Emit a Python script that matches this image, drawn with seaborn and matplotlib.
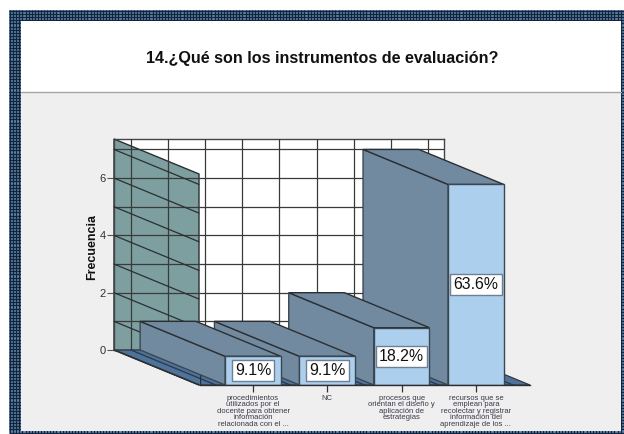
import numpy as np
import pandas as pd
import matplotlib
matplotlib.use("Agg")
import matplotlib.pyplot as plt
from matplotlib.patches import Polygon, Rectangle
import seaborn as sns

# Values
categorias = [
    "procedimientos\nutilizados por el\ndocente para obtener\ninformación\nrelacionada con el ...",
    "NC",
    "procesos que\norientan el diseño y\naplicación de\nestrategias",
    "recursos que se\nemplean para\nrecolectar y registrar\ninformación del\naprendizaje de los ...",
]
frecuencia = [1, 1, 2, 7]
porcentajes = ["9.1%", "9.1%", "18.2%", "63.6%"]
titulo = "14.¿Qué son los instrumentos de evaluación?"

W, H = 624, 434
DEPTH_X_PX, DEPTH_Y_PX = 85, 35
UNIT_X, UNIT_Y = 74.3, 28.65
dx = DEPTH_X_PX / UNIT_X
dy = DEPTH_Y_PX / UNIT_Y
y_top = 211 / UNIT_Y

FRONT = "#abcfed"
SIDE = "#718aa0"
WALL = "#7d9f9f"
FLOOR = "#4f7299"
LINE = "#2b2f33"

sns.set_theme(style="white")
plt.rcParams["font.family"] = ["Liberation Sans", "DejaVu Sans"]


def box(left, top, right, bottom):
    return [left / W, 1 - bottom / H, (right - left) / W, (bottom - top) / H]


fig = plt.figure(figsize=(W / 100, H / 100), dpi=100, facecolor="white")

# Page frame and panels, in pixel coordinates
bg = fig.add_axes([0, 0, 1, 1], zorder=0)
bg.set_xlim(0, W)
bg.set_ylim(H, 0)
bg.axis("off")
bg.add_patch(Rectangle((9, 10), 615, 423, fc="#6a97c4", ec="none"))
bg.vlines(np.arange(10, 624, 3.1), 10, 433, color="#14243a", lw=1.0)
bg.hlines(np.arange(11, 433, 3.1), 9, 624, color="#14243a", lw=1.0)
bg.add_patch(Rectangle((21, 21), 600, 71, fc="white", ec="none", zorder=3))
bg.add_patch(Rectangle((21, 92), 600, 339, fc="#efefef", ec="none", zorder=3))
bg.plot([21, 621], [92, 92], color="#a5a5a5", lw=1, zorder=4)
bg.text(322, 58, titulo, ha="center", va="center", fontsize=11.6,
        fontweight="bold", color="#111111", zorder=5)

# Back wall with the frequency scale
back = fig.add_axes(box(114, 139, 444, 350), zorder=1, facecolor="white")
back.set_xlim((114 - 168) / UNIT_X, (444 - 168) / UNIT_X)
back.set_ylim(0, y_top)
grid_x = np.arange(-0.5, 3.6, 0.5)
back.set_xticks(grid_x, labels=[])
back.set_yticks([0, 2, 4, 6])
back.set_yticks([1, 3, 5, 7], minor=True)
back.tick_params(axis="x", length=0)
back.tick_params(axis="y", which="major", length=5, width=0.8, color="#555555",
                 labelsize=8, labelcolor="#333333", pad=1, left=True)
back.tick_params(axis="y", which="minor", length=0)
back.grid(True, which="both", color="#3a3a3a", lw=0.9)
back.set_axisbelow(False)
for s in back.spines.values():
    s.set_color("#444444")
    s.set_linewidth(1)
back.set_ylabel("Frecuencia", fontsize=9, fontweight="bold", color="#111111",
                labelpad=1, y=0.49)

x0 = back.get_xlim()[0]
back.add_patch(Polygon([(x0, 0), (x0 + dx, -dy), (x0 + dx, y_top - dy), (x0, y_top)],
                       fc=WALL, ec=LINE, lw=1, zorder=1, clip_on=False))
for v in range(0, 8):
    back.plot([x0, x0 + dx], [v, v - dy], color=LINE, lw=0.9, zorder=3, clip_on=False)

# Front plane with the bars
df = pd.DataFrame({"categoria": categorias, "frecuencia": frecuencia})
ax = fig.add_axes(box(200, 174, 530, 385), zorder=2)
ax.patch.set_alpha(0)
sns.barplot(data=df, x="categoria", y="frecuencia", ax=ax, color=FRONT, saturation=1,
            width=0.75, edgecolor="#3c4650", linewidth=1)
ax.set_xlim((200 - 253) / UNIT_X, (530 - 253) / UNIT_X)
ax.set_ylim(0, y_top)
ax.set_xlabel("")
ax.set_ylabel("")
ax.set_yticks([])
for name in ["top", "left", "right"]:
    ax.spines[name].set_visible(False)
ax.spines["bottom"].set_color(LINE)
ax.spines["bottom"].set_linewidth(1)
ax.spines["bottom"].set_zorder(30)
ax.tick_params(axis="x", length=5, width=0.9, color="#333333", labelsize=5.5,
               labelcolor="#3a3a4a", pad=2.2, bottom=True)
for t in ax.get_xticklabels():
    t.set_linespacing(0.88)

# Floor
xa, xb = ax.get_xlim()
ax.add_patch(Polygon([(xa, 0), (xb, 0), (xb - dx, dy), (xa - dx, dy)],
                     fc=FLOOR, ec=LINE, lw=0.8, zorder=1, clip_on=False))
for g in grid_x:
    ax.plot([g - dx, g], [dy, 0], color="#26384d", lw=0.9, zorder=1.5, clip_on=False)
ax.plot([xa, xa], [0, y_top * 0.1], color=LINE, lw=1, zorder=1.5)

# Side and top faces from each bar, the left bars cover the right ones
bars = ax.containers[0]
for i, bar in enumerate(bars):
    left, right = bar.get_x(), bar.get_x() + bar.get_width()
    h = bar.get_height()
    z = 10 - 2 * i
    ax.add_patch(Polygon([(left, 0), (left, h), (left - dx, h + dy), (left - dx, dy)],
                         fc=SIDE, ec="#3c4650", lw=1, zorder=z, clip_on=False))
    ax.add_patch(Polygon([(left, h), (right, h), (right - dx, h + dy), (left - dx, h + dy)],
                         fc=SIDE, ec=LINE, lw=1, zorder=z, clip_on=False))
    bar.set_zorder(z + 0.5)

for lab in ax.bar_label(bars, labels=porcentajes, label_type="center", fontsize=11.4,
                        color="#111111",
                        bbox=dict(boxstyle="square,pad=0.2", fc="white", ec="#6f7f8f", lw=1)):
    lab.set_zorder(20)

fig.savefig("out.png", dpi=100)
